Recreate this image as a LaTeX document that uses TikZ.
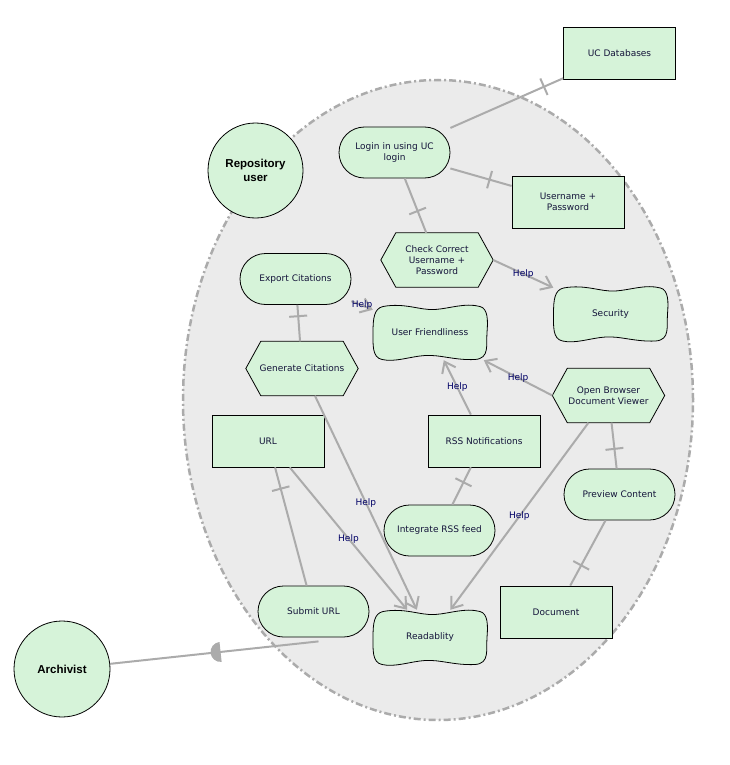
\documentclass[tikz,border=0pt]{standalone}
\usepackage{fontspec}
\setmainfont{DejaVu Sans}
\newfontfamily\actorfont{Liberation Sans}
\usetikzlibrary{arrows.meta,calc,decorations.markings}
\pgfdeclarelayer{back}
\pgfdeclarelayer{shapes}
\pgfsetlayers{back,shapes,main}
\definecolor{nodefill}{HTML}{D6F3D9}
\definecolor{linegray}{HTML}{ABABAB}
\definecolor{ellfill}{HTML}{EBEBEB}
\definecolor{txt}{HTML}{14143A}
\definecolor{helpc}{HTML}{000066}
\tikzset{
  base/.style={font=\fontsize{9}{11}\selectfont, text=txt, align=center, inner sep=0pt},
  rectbox/.style={base, draw=black, line width=0.8pt, fill=nodefill, minimum width=112pt, minimum height=52pt},
  stadium/.style={base, draw=black, line width=0.8pt, fill=nodefill, rounded corners=25.5pt, minimum width=111pt, minimum height=51pt},
  hexbox/.style={base, minimum width=112pt, minimum height=54pt},
  wavybox/.style={base, minimum width=114pt, minimum height=55pt},
  shapeline/.style={draw=black, line width=0.8pt, fill=nodefill},
  actor/.style={circle, draw=black, line width=0.8pt, fill=nodefill, text=black,
     font=\actorfont\bfseries\fontsize{11.5}{13.3}\selectfont, align=center, minimum size=95pt, inner sep=0pt},
  link/.style={draw=linegray, line width=2pt},
  helpline/.style={link, -{Straight Barb[length=10pt,width=15pt]}},
  helplbl/.style={font=\fontsize{9}{11}\selectfont, text=helpc, inner sep=0pt},
  bar at/.style={postaction={decorate, decoration={markings,
     mark=at position #1 with {\draw[draw=linegray, line width=2pt] (0pt,-9pt) -- (0pt,9pt);}}}},
  halfdisk at/.style={postaction={decorate, decoration={markings,
     mark=at position #1 with {\fill[linegray] (0pt,-10pt) arc[start angle=-90, end angle=-270, radius=10pt] -- cycle;}}}}
}
\newcommand\hexpath[1]{\draw[shapeline] (#1.west) -- ([xshift=15pt]#1.north west) -- ([xshift=-15pt]#1.north east) -- (#1.east) -- ([xshift=-15pt]#1.south east) -- ([xshift=15pt]#1.south west) -- cycle;}
\newcommand\wavypath[1]{\draw[shapeline, shift={(#1.center)}] (-47,-26)
  .. controls (-25,-30) and (-10,-22) .. (5,-23)
  .. controls (20,-24) and (35,-30) .. (50,-26)
  .. controls (58,-24) and (58,-12) .. (57,0)
  .. controls (56,12) and (60,26) .. (45,27)
  .. controls (25,28) and (10,22) .. (-5,23)
  .. controls (-20,24) and (-35,30) .. (-48,27)
  .. controls (-58,25) and (-57,12) .. (-57,0)
  .. controls (-57,-14) and (-56,-24) .. (-47,-26) -- cycle;}
\begin{document}
\begin{tikzpicture}[x=1pt,y=-1pt]
\useasboundingbox (0,0) rectangle (730,765);
\begin{pgfonlayer}{back}
\draw[fill=ellfill, draw=linegray, line width=2.5pt, dash pattern=on 7pt off 3pt on 2pt off 3pt]
  (438,400) ellipse [x radius=255pt, y radius=320pt];
\end{pgfonlayer}
% nodes
\node[rectbox] (ucdb) at (619.5,53.5) {UC Databases};
\node[actor] (repo) at (255.5,170.5) {Repository\\user};
\node[stadium] (login) at (394.5,152.5) {Login in using UC\\login};
\node[rectbox] (userpw) at (568,202) {Username +\\Password};
\node[hexbox] (check) at (437,260) {Check Correct\\Username +\\Password};
\node[stadium] (export) at (295.5,279) {Export Citations};
\node[wavybox] (uf) at (430,332.5) {User Friendliness};
\node[wavybox] (sec) at (610.5,314) {Security};
\node[hexbox] (gencit) at (302,368.5) {Generate Citations};
\node[hexbox] (open) at (608.5,395.5) {Open Browser\\Document Viewer};
\node[rectbox] (url) at (268,441) {URL};
\node[rectbox] (rss) at (484,441) {RSS Notifications};
\node[stadium] (preview) at (619.5,494.5) {Preview Content};
\node[stadium] (integ) at (439.5,530.5) {Integrate RSS feed};
\node[stadium] (submit) at (313.5,611.5) {Submit URL};
\node[wavybox] (read) at (430,637.5) {Readablity};
\node[rectbox] (doc) at (556,612) {Document};
\node[actor, minimum size=96pt] (arch) at (62,669) {Archivist};
\coordinate (subend) at ([xshift=5pt,yshift=-4pt]submit.south);
% custom outlines
\begin{pgfonlayer}{shapes}
\hexpath{check}
\hexpath{gencit}
\hexpath{open}
\wavypath{uf}
\wavypath{sec}
\wavypath{read}
\end{pgfonlayer}
% plain links with bars
\draw[link, bar at=0.83] (login) -- (ucdb);
\draw[link, bar at=0.64] (login) -- (userpw);
\draw[link, bar at=0.6] (login) -- (check);
\draw[link, bar at=0.31] (export) -- (gencit);
\draw[link, bar at=0.18] (url) -- (submit);
\draw[link, bar at=0.6] (integ) -- (rss);
\draw[link, bar at=0.57] (open) -- (preview);
\draw[link, bar at=0.69] (preview) -- (doc);
\draw[link, halfdisk at=0.53] (arch) -- (subend);
% help arrows
\draw[helpline] (check.east) -- node[helplbl]{Help} (sec);
\draw[helpline] (export) -- node[helplbl]{Help} (uf);
\draw[helpline] (gencit) -- node[helplbl]{Help} (read);
\draw[helpline] (url) -- node[helplbl]{Help} (read);
\draw[helpline] (rss) -- node[helplbl]{Help} (uf);
\draw[helpline] (open.west) -- node[helplbl]{Help} (uf);
\draw[helpline] (open) -- node[helplbl]{Help} (read);
\end{tikzpicture}
\end{document}
